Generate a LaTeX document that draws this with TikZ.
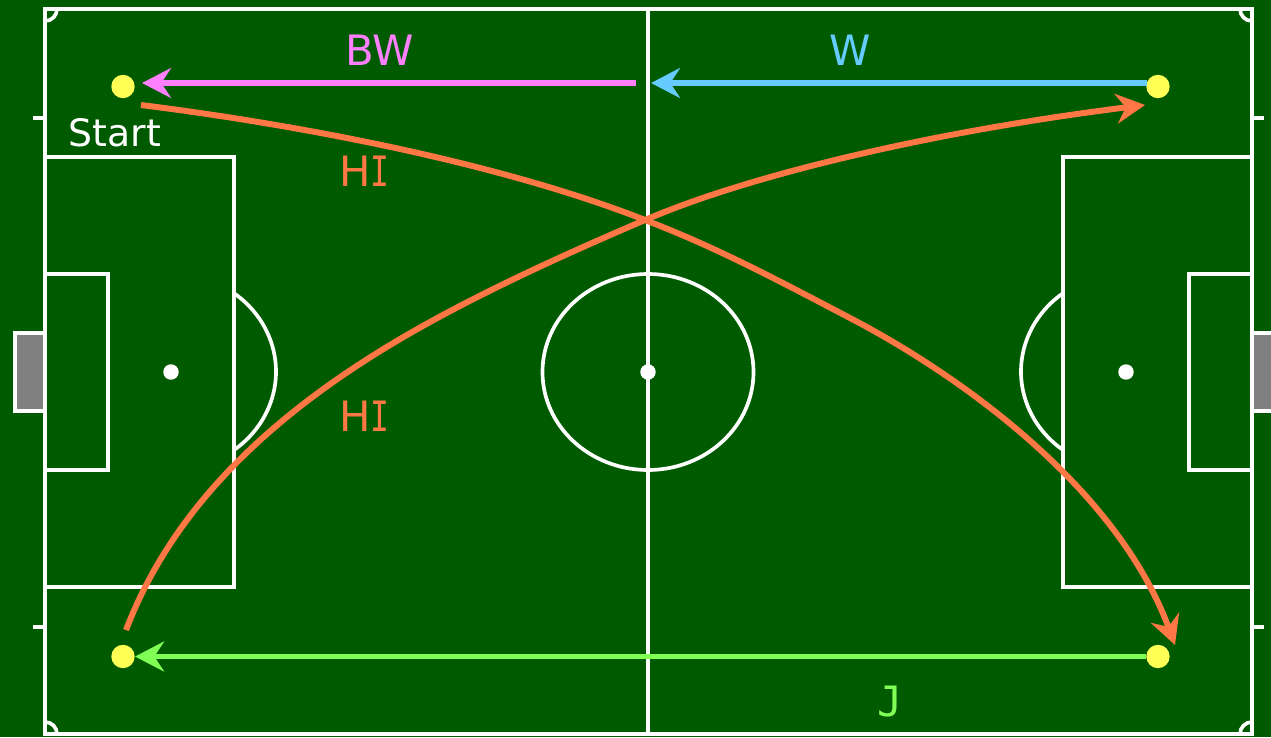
\documentclass[tikz,border=0pt]{standalone}
\usepackage{fontspec}
\setmainfont{DejaVu Sans}
\newfontfamily\serifcap{DejaVu Sans Mono}
\usepackage{xcolor}
\usepackage{graphicx}
\usetikzlibrary{arrows.meta}
\definecolor{pitchgreen}{HTML}{005A00}
\definecolor{playeryellow}{HTML}{FFFF55}
\definecolor{runorange}{HTML}{FF7744}
\definecolor{runpink}{HTML}{FF80FF}
\definecolor{runblue}{HTML}{66CCFF}
\definecolor{rungreen}{HTML}{80FF55}
\tikzset{
  pitchline/.style={draw=white,line width=2.1pt},
  spot/.style={circle,fill=white,minimum size=8.8pt,inner sep=0pt},
  player/.style={circle,fill=playeryellow,minimum size=13.3pt,inner sep=0pt},
  run/.style={line width=3.4pt,-{Stealth[length=16.5pt,width=17pt,inset=5.5pt]}},
  lab/.style={font=\fontsize{23.8pt}{25pt}\selectfont,inner sep=0pt,anchor=base},
}
\begin{document}
\begin{tikzpicture}[x=0.02cm,y=-0.02cm]
\useasboundingbox (0,0) rectangle (1271,737);
\clip (0,0) rectangle (1271,737);
\fill[pitchgreen] (0,0) rectangle (1271,737);
% goals
\draw[pitchline,fill=gray] (45,333) rectangle (15,411);
\draw[pitchline,fill=gray] (1252,333) rectangle (1282,411);
% outer lines
\draw[pitchline] (45,9) rectangle (1252,734);
\draw[pitchline] (648,9) -- (648,734);
\draw[pitchline] (33,118) -- (45,118);
\draw[pitchline] (33,627) -- (45,627);
\draw[pitchline] (1252,118) -- (1264,118);
\draw[pitchline] (1252,627) -- (1264,627);
% corners
\draw[pitchline] (57,9) arc[start angle=0,end angle=90,radius=12];
\draw[pitchline] (45,722) arc[start angle=-90,end angle=0,radius=12];
\draw[pitchline] (1240,9) arc[start angle=180,end angle=90,radius=12];
\draw[pitchline] (1252,722) arc[start angle=270,end angle=180,radius=12];
% boxes
\draw[pitchline] (45,157) rectangle (234,587);
\draw[pitchline] (45,274) rectangle (108,470);
\draw[pitchline] (1252,157) rectangle (1063,587);
\draw[pitchline] (1252,274) rectangle (1189,470);
% arcs
\draw[pitchline] (234,450) arc[start angle=-53.13,end angle=53.13,x radius=105,y radius=-98];
\draw[pitchline] (1063,450) arc[start angle=233.13,end angle=126.87,x radius=105,y radius=-98];
\draw[pitchline] (648,372) ellipse[x radius=105.5,y radius=98];
\node[spot] (spotl) at (171,372) {};
\node[spot] (spotc) at (648,372) {};
\node[spot] (spotr) at (1126,372) {};
% runs
\coordinate (bwfrom) at (636,83);
\coordinate (bwto) at (142,83);
\coordinate (wfrom) at (1147,83);
\coordinate (wto) at (651,83);
\coordinate (hionefrom) at (141,105);
\coordinate (cross) at (645,220);
\coordinate (hioneto) at (1175,645);
\coordinate (hitwofrom) at (126,630);
\coordinate (hitwoto) at (1145,105);
\node[player] (ptl) at (123,86.5) {};
\node[player] (ptr) at (1158,86.5) {};
\node[player] (pbl) at (123,656.5) {};
\node[player] (pbr) at (1158,656.5) {};
\draw[run,runpink] (bwfrom) -- (bwto);
\draw[run,runblue] (wfrom) -- (wto);
\draw[run,rungreen] (pbr) -- (pbl);
\draw[run,runorange] (hionefrom) .. controls (300,125) and (500,163) .. (cross)
  .. controls (715,247) and (770,276) .. (850,318)
  .. controls (965,378) and (1118,490) .. (hioneto);
\draw[run,runorange] (hitwofrom) .. controls (172,510) and (270,410) .. (430,322)
  .. controls (500,283.5) and (575,250) .. (cross)
  .. controls (750,175) and (930,132) .. (hitwoto);
% labels
\node[lab,white,font=\fontsize{21.5pt}{22pt}\selectfont] (start) at (115,146.7) {Start};
\node[lab,runpink] (bw) at (380,65.7) {BW};
\node[lab,runblue] (w) at (850,65.7) {W};
\node[lab,runorange] (hione) at (364.5,186.7) {H\scalebox{0.75}[1]{\serifcap I}};
\node[lab,runorange] (hitwo) at (364.5,431.7) {H\scalebox{0.75}[1]{\serifcap I}};
\node[lab,rungreen] (j) at (890,716) {{\serifcap J}};
\end{tikzpicture}
\end{document}
